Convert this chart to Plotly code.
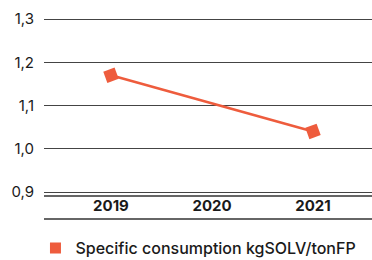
import plotly.graph_objects as go

years = ["2019", "2020", "2021"]
x_pos = [0, 1, 2]
values = [1.17, None, 1.04]
series_name = "Specific consumption kgSOLV/tonFP"
y_ticks = [0.9, 1.0, 1.1, 1.2, 1.3]

color = "#EE5C3D"
font_family = "Inter, Roboto, Arial, sans-serif"

xs = [x for x, v in zip(x_pos, values) if v is not None]
ys = [v for v in values if v is not None]

fig = go.Figure()
fig.add_trace(go.Scatter(
    x=xs, y=ys, mode="lines+markers",
    line=dict(color=color, width=2.5),
    marker=dict(symbol="square", size=12, color=color, angle=-20),
    showlegend=False, hoverinfo="skip"))
fig.add_trace(go.Scatter(
    x=[None], y=[None], mode="markers",
    marker=dict(symbol="square", size=11, color=color),
    name=series_name, showlegend=True))

# decorative rules below the plot: double line under 0,9 and rule under the years
for yp in (-0.0214, -0.1444):
    fig.add_shape(type="line", xref="paper", yref="paper",
                  x0=0, x1=1, y0=yp, y1=yp,
                  line=dict(color="#333333", width=1.5))

fig.update_layout(
    width=372, height=260,
    margin=dict(l=44, r=0, t=5, b=68, autoexpand=False),
    paper_bgcolor="white", plot_bgcolor="white",
    separators=",.",
    font=dict(family=font_family, size=15, color="#1a1a1a"),
    xaxis=dict(
        range=[-0.663, 2.584], tickvals=x_pos, ticktext=years,
        showgrid=False, zeroline=False,
        showline=True, linecolor="#444444", linewidth=1,
        ticks="", tickfont=dict(family=font_family, size=15, color="#1a1a1a", weight="bold"),
        ticklabelstandoff=0,
    ),
    yaxis=dict(
        range=[0.9, 1.3324], tickvals=y_ticks, tickformat=".1f",
        showgrid=True, gridcolor="#444444", gridwidth=1,
        zeroline=False, showline=False, ticks="",
        ticklabelstandoff=9,
        tickfont=dict(family=font_family, size=15, color="#1a1a1a"),
    ),
    legend=dict(orientation="h", x=-0.026, xanchor="left", y=-0.2086, yanchor="top",
                font=dict(family=font_family, size=16, color="#1a1a1a", weight=500),
                itemwidth=30),
)

fig.write_html("out.html", config={"displayModeBar": False},
               post_script="document.body.style.margin='0';")
